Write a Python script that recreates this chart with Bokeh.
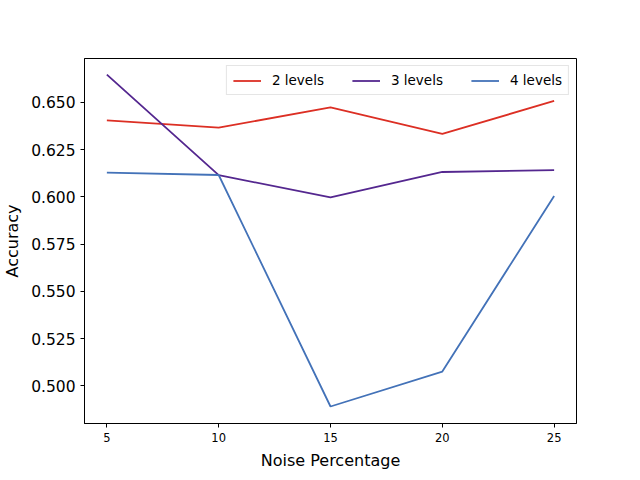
from bokeh.plotting import figure
from bokeh.models import FixedTicker, NumeralTickFormatter, Range1d, Legend, LegendItem
from bokeh.embed import file_html
from bokeh.resources import INLINE

noise = [5, 10, 15, 20, 25]
acc_2 = [0.6405, 0.6367, 0.6474, 0.6334, 0.6508]
acc_3 = [0.6648, 0.6115, 0.5998, 0.6132, 0.6142]
acc_4 = [0.6129, 0.6116, 0.4890, 0.5075, 0.6005]
series_names = ["2 levels", "3 levels", "4 levels"]
colors = ["#dc2f24", "#54278f", "#4372b8"]
x_ticks = [5, 10, 15, 20, 25]
y_ticks = [0.500, 0.525, 0.550, 0.575, 0.600, 0.625, 0.650]

W, H = 632, 472
p = figure(width=W, height=H, output_backend="svg", toolbar_location=None,
           x_range=Range1d(4, 26), y_range=Range1d(0.4800, 0.6733),
           min_border_left=80, min_border_right=W - 576,
           min_border_top=58, min_border_bottom=H - 427)
p.background_fill_color = "white"
p.border_fill_color = "white"
p.outline_line_color = "black"
p.outline_line_alpha = 1
p.outline_line_width = 1
p.xgrid.visible = False
p.ygrid.visible = False

items = []
for ys, name, c in zip([acc_2, acc_3, acc_4], series_names, colors):
    r = p.line(noise, ys, line_color=c, line_width=1.8)
    items.append(LegendItem(label=name, renderers=[r]))

for ax in (p.xaxis[0], p.yaxis[0]):
    ax.axis_line_color = "black"
    ax.major_tick_line_color = "black"
    ax.major_tick_out = 4
    ax.major_tick_in = 0
    ax.minor_tick_line_color = None
    ax.major_label_text_font = "DejaVu Sans"
    ax.axis_label_text_font = "DejaVu Sans"
    ax.axis_label_text_font_style = "normal"
    ax.axis_label_text_font_size = "16px"
    ax.major_label_text_color = "black"
    ax.axis_label_text_color = "black"

p.xaxis.ticker = FixedTicker(ticks=x_ticks)
p.yaxis.ticker = FixedTicker(ticks=y_ticks)
p.yaxis.formatter = NumeralTickFormatter(format="0.000")
p.xaxis.major_label_text_font_size = "11.5px"
p.yaxis.major_label_text_font_size = "15.5px"
p.xaxis.axis_label = "Noise Percentage"
p.yaxis.axis_label = "Accuracy"
p.xaxis.major_label_standoff = 5
p.yaxis.major_label_standoff = 5
p.xaxis.axis_label_standoff = 6
p.yaxis.axis_label_standoff = 6

legend = Legend(items=items, orientation="horizontal", location="top_right")
legend.margin = 7
legend.padding = 6
legend.spacing = 28
legend.glyph_width = 28
legend.glyph_height = 13
legend.label_height = 13
legend.label_standoff = 11
legend.label_text_font = "DejaVu Sans"
legend.label_text_font_size = "13.5px"
legend.label_text_color = "black"
legend.label_text_baseline = "middle"
legend.border_line_color = "#cccccc"
legend.border_line_width = 1
legend.background_fill_alpha = 0.8
p.add_layout(legend, "center")

open("out.html", "w").write(file_html(p, INLINE))
